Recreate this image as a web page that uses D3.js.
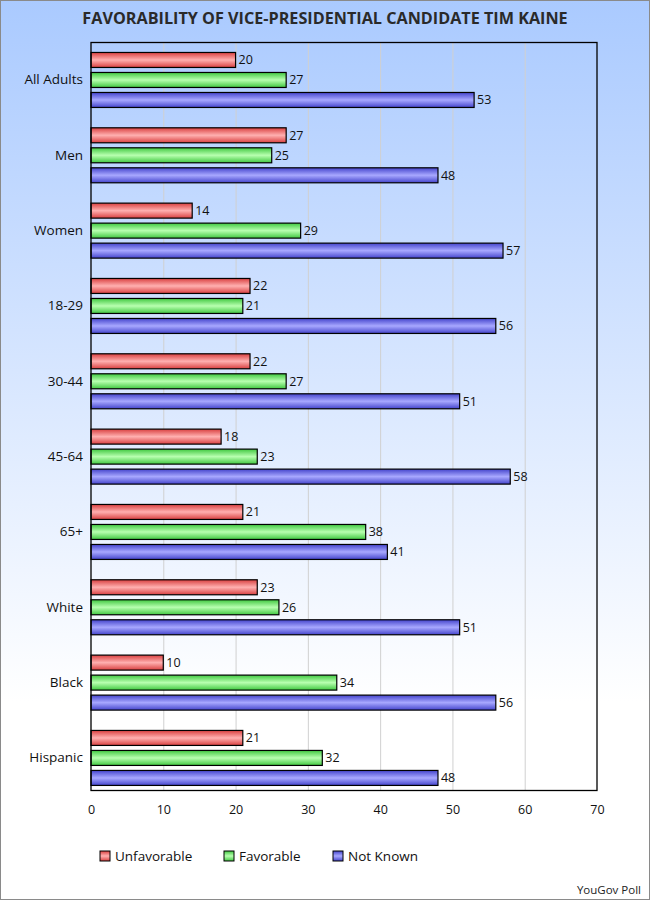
<!DOCTYPE html>
<html><head><meta charset="utf-8">
<script src="https://cdn.jsdelivr.net/npm/d3@7"></script>
<style>html,body{margin:0;padding:0;background:#fff;}svg{display:block;}</style>
</head><body>
<script>
const categories = ["All Adults","Men","Women","18-29","30-44","45-64","65+","White","Black","Hispanic"];
const seriesNames = ["Unfavorable","Favorable","Not Known"];
const unfavorable = [20,27,14,22,22,18,21,23,10,21];
const favorable   = [27,25,29,21,27,23,38,26,34,32];
const notKnown    = [53,48,57,56,51,58,41,51,56,48];
const xTicks = [0,10,20,30,40,50,60,70];
const titleText = "FAVORABILITY OF VICE-PRESIDENTIAL CANDIDATE TIM KAINE";
const sourceText = "YouGov Poll";

const series = [unfavorable, favorable, notKnown];
const colors = [
  {edge:"#d94040", mid:"#ffb0b0"},
  {edge:"#40c840", mid:"#b8ffb0"},
  {edge:"#4444cc", mid:"#a8a8ff"}
];

const W = 650, H = 900;
const m = {left:91, right:597, top:42, bottom:790};
const font = "'Open Sans', 'Noto Sans', sans-serif";

const svg = d3.select("body").append("svg").attr("width", W).attr("height", H);
const defs = svg.append("defs");
const bg = defs.append("linearGradient").attr("id","bg").attr("x1",0).attr("y1",0).attr("x2",0).attr("y2",1);
bg.append("stop").attr("offset","0%").attr("stop-color","#aacaff");
bg.append("stop").attr("offset","78%").attr("stop-color","#ffffff");
bg.append("stop").attr("offset","100%").attr("stop-color","#ffffff");

colors.forEach((c,i)=>{
  const g = defs.append("linearGradient").attr("id","g"+i).attr("x1",0).attr("y1",0).attr("x2",0).attr("y2",1);
  g.append("stop").attr("offset","0%").attr("stop-color",c.edge);
  g.append("stop").attr("offset","50%").attr("stop-color",c.mid);
  g.append("stop").attr("offset","100%").attr("stop-color",c.edge);
});

svg.append("rect").attr("x",0.5).attr("y",0.5).attr("width",W-1).attr("height",H-1)
  .attr("fill","url(#bg)").attr("stroke","#8a8a8a").attr("stroke-width",1);

svg.append("text").attr("x",325).attr("y",24).attr("text-anchor","middle")
  .attr("font-family",font).attr("font-weight","bold").attr("font-size",16.2)
  .attr("fill","#2a2a2a").text(titleText);

const x = d3.scaleLinear().domain([0,70]).range([m.left, m.right]);
const y = d3.scaleBand().domain(categories).range([42.3, 795.6]);
const yInner = d3.scaleBand().domain(seriesNames).range([-30,30]);

// gridlines
svg.append("g").selectAll("line").data(xTicks.slice(1,-1)).join("line")
  .attr("x1",d=>x(d)+0.5).attr("x2",d=>x(d)+0.5).attr("y1",m.top).attr("y2",m.bottom)
  .attr("stroke","#d0d0d0").attr("stroke-width",1);

// bars
const groups = svg.append("g").selectAll("g").data(categories).join("g")
  .attr("transform",d=>`translate(0,${y(d)+y.bandwidth()/2})`);
seriesNames.forEach((s,si)=>{
  groups.append("rect")
    .attr("x",x(0)).attr("y",yInner(s)+2.5)
    .attr("width",(d,i)=>x(series[si][i])-x(0)).attr("height",15)
    .attr("fill","url(#g"+si+")").attr("stroke","#000").attr("stroke-width",1.2);
  groups.append("text")
    .attr("x",(d,i)=>x(series[si][i])+3).attr("y",yInner(s)+10)
    .attr("dy","0.35em").attr("font-family",font).attr("font-size",12.5).attr("fill","#111")
    .text((d,i)=>series[si][i]);
});

// category labels
const yAxis = d3.axisLeft(y).tickSize(0).tickPadding(8);
const ya = svg.append("g").attr("transform",`translate(${m.left},0)`).call(yAxis);
ya.select(".domain").remove();
ya.selectAll("text").attr("font-family",font).attr("font-size",13.5).attr("fill","#111");

// x axis labels
const xAxis = d3.axisBottom(x).tickValues(xTicks).tickSize(0).tickPadding(15);
const xa = svg.append("g").attr("transform",`translate(0,${m.bottom})`).call(xAxis);
xa.select(".domain").remove();
xa.selectAll("text").attr("font-family",font).attr("font-size",12.5).attr("fill","#111");

// plot border
svg.append("rect").attr("x",m.left).attr("y",m.top+0.5).attr("width",m.right-m.left).attr("height",m.bottom-m.top)
  .attr("fill","none").attr("stroke","#000").attr("stroke-width",1.3);

// legend
const legX = [100, 224, 333];
const leg = svg.append("g").selectAll("g").data(seriesNames).join("g")
  .attr("transform",(d,i)=>`translate(${legX[i]},851)`);
leg.append("rect").attr("width",10).attr("height",10)
  .attr("fill",(d,i)=>"url(#g"+i+")").attr("stroke","#000").attr("stroke-width",1);
leg.append("text").attr("x",15).attr("y",5).attr("dy","0.35em")
  .attr("font-family",font).attr("font-size",13.5).attr("fill","#111").text(d=>d);

svg.append("text").attr("x",641).attr("y",894).attr("text-anchor","end")
  .attr("font-family",font).attr("font-size",11.5).attr("fill","#222").text(sourceText);
</script>
</body></html>
